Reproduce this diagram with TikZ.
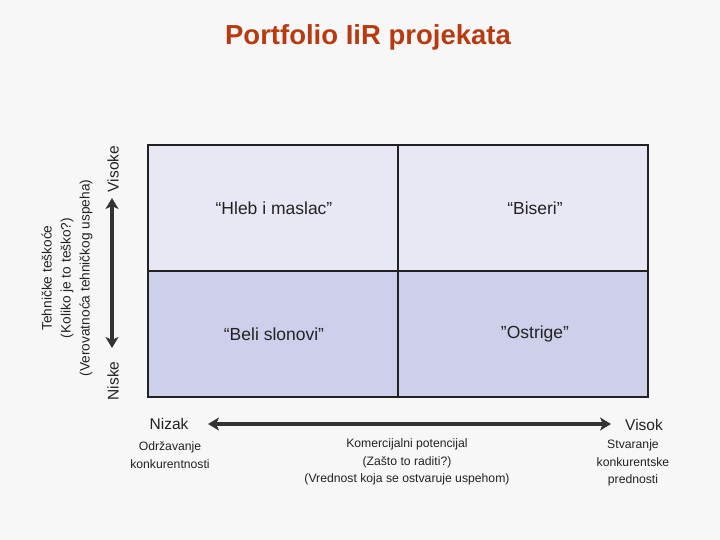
\documentclass[tikz,border=0pt]{standalone}
\usepackage{fontspec}
\setmainfont{Liberation Sans}
\usetikzlibrary{arrows.meta}
\definecolor{bg}{HTML}{F7F7F7}
\definecolor{titlered}{HTML}{B83A10}
\definecolor{celltop}{HTML}{E8E8F5}
\definecolor{cellbot}{HTML}{CDCFEB}
\definecolor{ink}{HTML}{222222}
\definecolor{arr}{HTML}{333333}
\tikzset{
  cell/.style={draw=ink, line width=2.2pt, minimum width=250pt, minimum height=126pt, inner sep=0pt},
  celltext/.style={font=\fontsize{17.5}{21}\selectfont, text=ink},
  lbl/.style={font=\fontsize{15.5}{18}\selectfont, text=ink, inner sep=0pt},
  small/.style={font=\fontsize{12.2}{17.8}\selectfont, text=ink, align=center, inner sep=0pt},
  ysmall/.style={font=\fontsize{13.7}{19}\selectfont, text=ink, align=center, inner sep=0pt},
  bigarrow/.style={arr, line width=3.6pt, {Stealth[length=11pt,width=13pt,inset=3pt]}-{Stealth[length=11pt,width=13pt,inset=3pt]}}
}
\begin{document}
\begin{tikzpicture}[x=1pt,y=-1pt]
\fill[bg] (0,0) rectangle (720,540);
\useasboundingbox (0,0) rectangle (720,540);
\node[font=\fontsize{27.5}{32}\selectfont\bfseries, text=titlered] (title) at (368,37) {Portfolio IiR projekata};
% grid
\node[cell, fill=celltop, anchor=north west] (tl) at (147,144) {};
\node[cell, fill=celltop, anchor=north west] (tr) at (397,144) {};
\node[cell, fill=cellbot, anchor=north west] (bl) at (147,270) {};
\node[cell, fill=cellbot, anchor=north west] (br) at (397,270) {};
\node[celltext] (t1) at (274,208) {“Hleb i maslac”};
\node[celltext] (t2) at (535,208) {“Biseri”};
\node[celltext] (t3) at (274,334) {“Beli slonovi”};
\node[celltext] (t4) at (535,334) {”Ostrige”};
% vertical axis
\node[lbl, rotate=90] (visoke) at (113,169) {Visoke};
\node[lbl, rotate=90] (niske) at (113,381) {Niske};
\coordinate (va) at (112,198);
\coordinate (vb) at (112,348);
\draw[bigarrow] (va) -- (vb);
\node[ysmall, rotate=90] (ylab) at (67,278) {Tehničke teškoće\\(Koliko je to teško?)\\(Verovatnoća tehničkog uspeha)};
% horizontal axis
\node[lbl] (nizak) at (169,424) {Nizak};
\node[lbl] (visok) at (644,425) {Visok};
\coordinate (ha) at (208,424);
\coordinate (hb) at (611,424);
\draw[bigarrow] (ha) -- (hb);
\node[small] (odr) at (170,455) {Održavanje\\konkurentnosti};
\node[small] (kom) at (407,462) {Komercijalni potencijal\\(Zašto to raditi?)\\(Vrednost koja se ostvaruje uspehom)};
\node[small] (stv) at (633,463) {Stvaranje\\konkurentske\\prednosti};
\end{tikzpicture}
\end{document}
